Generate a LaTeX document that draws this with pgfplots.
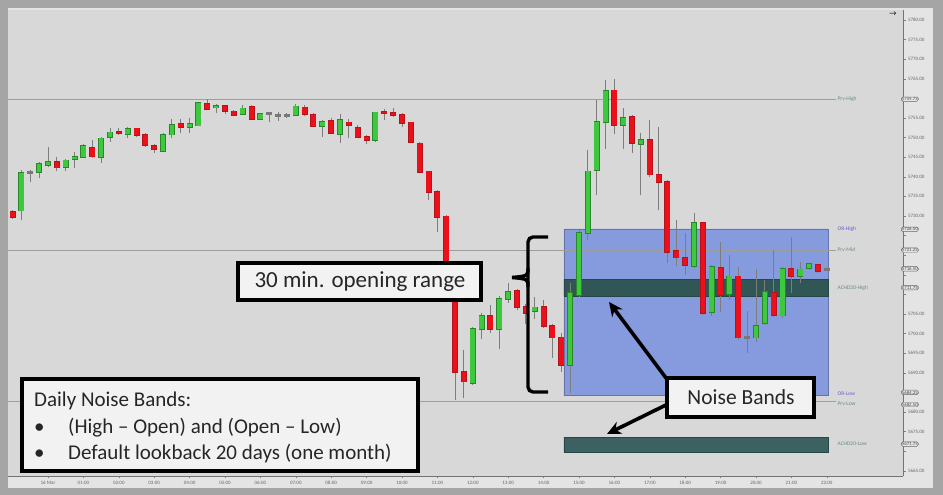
\documentclass[border=0pt]{standalone}
\usepackage{pgfplots}
\pgfplotsset{compat=1.18}
\usepackage{pgfplotstable}
\usepackage{fontspec}
\setmainfont{Carlito}
\newfontfamily\dejavu{DejaVu Sans}
\usetikzlibrary{arrows.meta}
\definecolor{frame}{RGB}{165,165,165}
\definecolor{panel}{RGB}{228,228,228}
\definecolor{plotbg}{RGB}{216,216,216}
\definecolor{cgreen}{RGB}{62,200,62}
\definecolor{cgreenB}{RGB}{40,135,40}
\definecolor{cred}{RGB}{235,16,26}
\definecolor{credB}{RGB}{180,20,25}
\definecolor{wick}{RGB}{125,125,125}
\definecolor{dojiC}{RGB}{120,120,120}
\definecolor{orblue}{RGB}{134,154,222}
\definecolor{band}{RGB}{48,86,86}
\definecolor{lvl}{RGB}{158,158,158}
\definecolor{lblgreen}{RGB}{105,140,125}
\definecolor{lblblue}{RGB}{95,95,200}

\pgfplotstableread{
x o h l c
-0.75 5731.5 5741.7 5729.0 5741.2
-0.25 5741.2 5743.8 5739.7 5743.3
0.00 5743.0 5747.6 5742.5 5744.0
0.50 5742.5 5744.8 5741.7 5744.3
0.75 5744.5 5746.3 5742.2 5745.1
1.00 5745.1 5748.4 5744.8 5747.9
1.50 5745.1 5750.2 5743.5 5749.9
1.75 5750.2 5752.4 5748.9 5751.4
2.25 5750.9 5752.7 5749.9 5752.2
3.25 5746.6 5751.2 5746.3 5750.7
3.50 5750.7 5754.7 5749.9 5753.2
4.00 5752.7 5755.0 5751.2 5753.5
4.25 5753.2 5759.3 5753.0 5759.1
4.75 5757.8 5758.8 5756.3 5758.1
5.50 5756.0 5758.3 5755.8 5757.5
6.00 5754.7 5756.3 5754.5 5756.0
7.00 5755.8 5758.6 5755.5 5758.1
7.75 5753.0 5754.5 5750.2 5754.2
8.25 5750.9 5756.0 5748.6 5754.7
9.25 5749.4 5756.8 5748.9 5756.5
12.00 5687.4 5701.7 5686.9 5701.2
12.25 5701.2 5705.3 5698.6 5704.5
12.75 5701.2 5709.6 5696.1 5708.8
13.00 5708.8 5712.9 5707.8 5710.6
13.75 5705.8 5709.3 5703.7 5706.8
14.75 5692.0 5712.9 5684.9 5710.4
15.00 5709.9 5726.4 5709.3 5725.7
15.25 5725.7 5746.8 5723.9 5741.5
15.50 5741.7 5759.6 5735.4 5754.0
15.75 5754.0 5764.7 5747.3 5762.1
16.25 5753.2 5757.8 5747.3 5755.0
16.75 5748.4 5751.2 5735.4 5749.6
18.25 5717.2 5730.8 5716.7 5728.2
18.75 5705.5 5717.5 5704.7 5717.0
19.25 5710.1 5720.1 5708.6 5714.7
20.00 5699.1 5716.7 5697.9 5702.2
20.25 5702.7 5713.7 5702.2 5710.6
20.75 5704.7 5717.2 5704.2 5716.7
21.25 5714.7 5718.3 5712.9 5716.5
21.50 5716.7 5718.0 5716.2 5717.7
}\greentab

\pgfplotstableread{
x o h l c
-1.00 5731.0 5731.5 5729.2 5729.7
0.25 5744.0 5745.1 5741.7 5742.5
1.25 5747.6 5749.4 5744.8 5745.3
2.00 5751.7 5752.4 5750.7 5751.2
2.50 5752.4 5752.7 5750.2 5750.7
2.75 5750.7 5751.2 5747.6 5748.1
3.00 5747.9 5748.4 5746.1 5747.1
3.75 5753.5 5754.7 5751.2 5752.7
4.50 5758.8 5759.8 5757.0 5757.5
5.00 5758.1 5758.3 5756.0 5756.8
5.25 5756.8 5757.0 5755.5 5755.8
5.75 5757.8 5758.3 5754.5 5754.7
7.25 5757.8 5758.3 5755.5 5756.0
7.50 5755.8 5756.3 5752.7 5753.0
8.00 5754.5 5755.0 5750.9 5751.2
8.50 5754.0 5754.7 5749.9 5753.2
8.75 5752.7 5753.2 5749.9 5750.2
9.00 5750.2 5750.7 5748.6 5749.4
9.50 5756.5 5757.5 5754.5 5756.3
9.75 5756.5 5757.8 5755.5 5755.8
10.00 5755.8 5756.3 5752.7 5753.7
10.25 5754.0 5754.2 5748.6 5748.9
10.50 5748.6 5748.9 5741.0 5741.2
10.75 5741.5 5741.7 5734.1 5736.1
11.00 5736.1 5736.6 5725.9 5729.7
11.25 5730.0 5730.5 5712.6 5713.0
11.50 5713.0 5713.5 5683.1 5690.2
11.75 5690.2 5695.8 5683.6 5687.7
12.50 5704.7 5707.3 5700.2 5701.2
13.25 5710.9 5711.4 5706.0 5706.8
13.50 5706.8 5707.8 5702.7 5705.3
14.00 5706.8 5708.6 5701.4 5701.9
14.25 5702.2 5702.7 5694.0 5699.1
14.50 5699.1 5700.2 5690.2 5692.0
16.00 5762.1 5765.2 5751.2 5753.2
16.50 5755.3 5755.8 5746.1 5748.6
17.00 5749.4 5754.5 5740.0 5740.5
17.25 5740.5 5752.7 5731.5 5738.7
17.50 5738.7 5739.2 5718.0 5720.8
17.75 5721.1 5729.0 5717.5 5719.5
18.00 5719.5 5725.7 5715.0 5717.5
18.50 5728.2 5728.5 5704.7 5705.3
19.00 5717.0 5723.4 5705.5 5709.9
19.50 5714.7 5717.0 5698.4 5699.1
20.50 5710.4 5721.3 5704.2 5704.7
21.00 5716.7 5724.6 5710.4 5714.7
21.75 5717.7 5718.0 5715.7 5716.0
}\redtab

\pgfplotstableread{
x o h l c
-0.50 5741.2 5742.0 5738.7 5741.0
6.25 5756.3 5756.4 5754.2 5756.2
6.50 5755.8 5756.5 5754.2 5755.7
6.75 5755.8 5756.3 5755.0 5755.7
19.75 5699.1 5706.0 5695.3 5699.0
22.00 5716.5 5716.8 5716.2 5716.4
}\dojitab

\newcommand{\candles}[3]{%
\addplot[draw=none, no markers, error bars/.cd, y dir=both, y explicit, error mark=none,
  error bar style={draw=wick, line width=0.9pt}]
  table[x=x, y expr={(\thisrow{h}+\thisrow{l})/2}, y error expr={(\thisrow{h}-\thisrow{l})/2}] {#1};
\addplot[draw=none, no markers, error bars/.cd, y dir=both, y explicit, error mark=none,
  error bar style={draw=#2, line width=6pt}]
  table[x=x, y expr={(\thisrow{o}+\thisrow{c})/2}, y error expr={max(abs(\thisrow{o}-\thisrow{c})/2,0.2)+0.2}] {#1};
\addplot[draw=none, no markers, error bars/.cd, y dir=both, y explicit, error mark=none,
  error bar style={draw=#3, line width=4.6pt}]
  table[x=x, y expr={(\thisrow{o}+\thisrow{c})/2}, y error expr={max(abs(\thisrow{o}-\thisrow{c})/2,0.2)}] {#1};
}

\begin{document}
\begin{tikzpicture}
\useasboundingbox (0,0) rectangle (943pt,495pt);
\fill[frame] (0,0) rectangle (943pt,495pt);
\fill[panel] (8pt,7pt) rectangle (933pt,487pt);
\begin{axis}[
  at={(8pt,19pt)}, anchor=south west,
  scale only axis, width=895pt, height=466pt,
  xmin=-1.130, xmax=24.153, ymin=5663.67, ymax=5782.55,
  clip=false,
  axis background/.style={fill=plotbg},
  axis x line*=bottom, axis y line*=right,
  axis line style={-, draw=black!55, line width=0.6pt},
  xtick={0,1,...,22},
  xticklabels={16 Mar,01:00,02:00,03:00,04:00,05:00,06:00,07:00,08:00,09:00,10:00,11:00,12:00,13:00,14:00,15:00,16:00,17:00,18:00,19:00,20:00,21:00,22:00},
  ytick={5665,5675,5680,5690,5695,5700,5705,5730,5735,5740,5745,5750,5755,5765,5770,5775,5780},
  extra y ticks={5670,5685,5710,5715,5720,5725,5760},
  extra y tick labels={},
  yticklabel pos=right,
  tick align=outside, major tick length=2.5pt,
  tick style={draw=black!50, line width=0.4pt},
  ticklabel style={font=\fontsize{5}{6}\selectfont, text=black!60},
  xticklabel style={yshift=1pt},
  yticklabel style={xshift=-1pt},
  /pgf/number format/assume math mode=true,
  yticklabel={\pgfmathprintnumber[fixed,fixed zerofill,precision=2,1000 sep={}]{\tick}},
]
% opening range box
\addplot[fill=orblue, draw=orblue!75!black, line width=0.5pt] coordinates {(14.57,5684.3) (22.03,5684.3) (22.03,5726.7) (14.57,5726.7) (14.57,5684.3)};
% noise bands
\addplot[fill=band, draw=band!80!black, line width=0.4pt] coordinates {(14.57,5709.6) (22.03,5709.6) (22.03,5713.9) (14.57,5713.9) (14.57,5709.6)};
\addplot[fill=band, fill opacity=0.92, draw=band!80!black, line width=0.4pt] coordinates {(14.57,5669.8) (22.03,5669.8) (22.03,5673.6) (14.57,5673.6) (14.57,5669.8)};
% previous day levels
\addplot[lvl, line width=0.8pt] coordinates {(-1.13,5759.8) (22.25,5759.8)};
\addplot[lvl, line width=0.8pt] coordinates {(-1.13,5721.3) (22.25,5721.3)};
\addplot[lvl, line width=0.8pt] coordinates {(-1.13,5682.6) (22.25,5682.6)};
% candles
\candles{\greentab}{cgreenB}{cgreen}
\candles{\redtab}{credB}{cred}
\candles{\dojitab}{dojiC}{dojiC}
% level labels
\begin{scope}[every node/.style={anchor=west, inner sep=0pt, font=\fontsize{5.5}{6}\selectfont}]
\node[text=lblgreen] at (axis cs:22.3,5759.8) {Prv-High};
\node[text=lblblue] at (axis cs:22.3,5726.6) {OR-High};
\node[text=lblgreen] at (axis cs:22.3,5721.3) {Prv-Mid};
\node[text=lblgreen] at (axis cs:22.3,5711.7) {ACHD20-High};
\node[text=lblblue] at (axis cs:22.3,5684.6) {OR-Low};
\node[text=lblgreen] at (axis cs:22.3,5682.0) {Prv-Low};
\node[text=lblgreen] at (axis cs:22.3,5671.8) {ACHD20-Low};
\end{scope}
\begin{scope}[every node/.style={anchor=west, draw=black!60, fill=panel, rounded corners=1.5pt, inner sep=0.6pt, line width=0.4pt, font=\fontsize{4.8}{5}\selectfont, text=black!70}]
\node at (axis cs:24.10,5759.8) {5759.75};
\node at (axis cs:24.10,5726.6) {5726.50};
\node at (axis cs:24.10,5721.3) {5721.25};
\node at (axis cs:24.10,5716.5) {5716.50};
\node at (axis cs:24.10,5711.7) {5711.75};
\node at (axis cs:24.10,5685.0) {5684.25};
\node at (axis cs:24.10,5681.9) {5682.50};
\node at (axis cs:24.10,5671.8) {5671.75};
\end{scope}
\end{axis}
% annotations in image coordinates
\begin{scope}[x=1pt, y=-1pt, shift={(0pt,495pt)}]
\node[font=\dejavu\fontsize{9}{9}\selectfont, text=black!80] at (893,14) {→};
% opening range label
\draw[line width=3.2pt, fill=white!95!black] (238,263) rectangle (481,300);
\node[font=\fontsize{23}{26}\selectfont, text=black!85] at (360,282) {30 min. opening range};
% brace
\draw[line width=3.4pt, rounded corners=5pt] (548,237) -- (528,237) -- (528,392) -- (548,392);
\draw[line width=3.4pt] (528,268) .. controls (528,276) .. (512,277.5);
\draw[line width=3.4pt] (528,287) .. controls (528,279) .. (512,277.5);
% noise bands label and arrows
\draw[line width=3.6pt, -{Stealth[length=14pt,width=13pt]}] (672,386) -- (609,302);
\draw[line width=3.6pt, -{Stealth[length=14pt,width=13pt]}] (672,402) -- (607,434);
\draw[line width=3.2pt, fill=white!95!black] (667,378) rectangle (814,417);
\node[font=\fontsize{21.5}{24}\selectfont, text=black!85] at (741,397) {Noise Bands};
% daily noise bands box
\draw[line width=3.2pt, fill=white!95!black] (22,379) rectangle (418,471);
\begin{scope}[every node/.style={anchor=base west, inner sep=0pt, font=\fontsize{21}{24}\selectfont, text=black!85}]
\node at (34,407) {Daily Noise Bands:};
\node at (34,434) {•};
\node at (68,434) {(High – Open) and (Open – Low)};
\node at (34,460) {•};
\node at (68,460) {Default lookback 20 days (one month)};
\end{scope}
\end{scope}
\end{tikzpicture}
\end{document}
